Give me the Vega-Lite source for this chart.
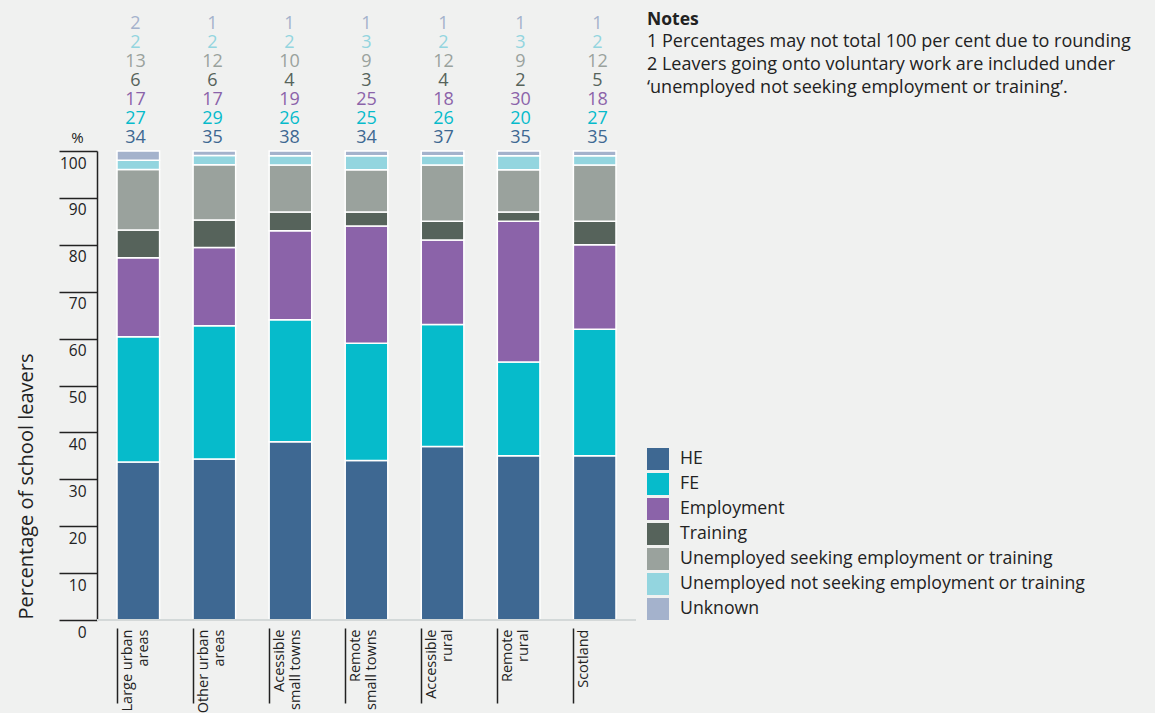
{
  "$schema": "https://vega.github.io/schema/vega-lite/v6.json",
  "background": "#f0f1f0",
  "padding": {"left": 15, "top": 9, "right": 5, "bottom": 0},
  "config": {"font": "Open Sans", "view": {"stroke": null}},
  "datasets": {
    "leavers": [
      {"area": "Large urban areas", "category": "HE", "value": 34},
      {"area": "Large urban areas", "category": "FE", "value": 27},
      {"area": "Large urban areas", "category": "Employment", "value": 17},
      {"area": "Large urban areas", "category": "Training", "value": 6},
      {"area": "Large urban areas", "category": "Unemployed seeking employment or training", "value": 13},
      {"area": "Large urban areas", "category": "Unemployed not seeking employment or training", "value": 2},
      {"area": "Large urban areas", "category": "Unknown", "value": 2},
      {"area": "Other urban areas", "category": "HE", "value": 35},
      {"area": "Other urban areas", "category": "FE", "value": 29},
      {"area": "Other urban areas", "category": "Employment", "value": 17},
      {"area": "Other urban areas", "category": "Training", "value": 6},
      {"area": "Other urban areas", "category": "Unemployed seeking employment or training", "value": 12},
      {"area": "Other urban areas", "category": "Unemployed not seeking employment or training", "value": 2},
      {"area": "Other urban areas", "category": "Unknown", "value": 1},
      {"area": "Acessible small towns", "category": "HE", "value": 38},
      {"area": "Acessible small towns", "category": "FE", "value": 26},
      {"area": "Acessible small towns", "category": "Employment", "value": 19},
      {"area": "Acessible small towns", "category": "Training", "value": 4},
      {"area": "Acessible small towns", "category": "Unemployed seeking employment or training", "value": 10},
      {"area": "Acessible small towns", "category": "Unemployed not seeking employment or training", "value": 2},
      {"area": "Acessible small towns", "category": "Unknown", "value": 1},
      {"area": "Remote small towns", "category": "HE", "value": 34},
      {"area": "Remote small towns", "category": "FE", "value": 25},
      {"area": "Remote small towns", "category": "Employment", "value": 25},
      {"area": "Remote small towns", "category": "Training", "value": 3},
      {"area": "Remote small towns", "category": "Unemployed seeking employment or training", "value": 9},
      {"area": "Remote small towns", "category": "Unemployed not seeking employment or training", "value": 3},
      {"area": "Remote small towns", "category": "Unknown", "value": 1},
      {"area": "Accessible rural", "category": "HE", "value": 37},
      {"area": "Accessible rural", "category": "FE", "value": 26},
      {"area": "Accessible rural", "category": "Employment", "value": 18},
      {"area": "Accessible rural", "category": "Training", "value": 4},
      {"area": "Accessible rural", "category": "Unemployed seeking employment or training", "value": 12},
      {"area": "Accessible rural", "category": "Unemployed not seeking employment or training", "value": 2},
      {"area": "Accessible rural", "category": "Unknown", "value": 1},
      {"area": "Remote rural", "category": "HE", "value": 35},
      {"area": "Remote rural", "category": "FE", "value": 20},
      {"area": "Remote rural", "category": "Employment", "value": 30},
      {"area": "Remote rural", "category": "Training", "value": 2},
      {"area": "Remote rural", "category": "Unemployed seeking employment or training", "value": 9},
      {"area": "Remote rural", "category": "Unemployed not seeking employment or training", "value": 3},
      {"area": "Remote rural", "category": "Unknown", "value": 1},
      {"area": "Scotland", "category": "HE", "value": 35},
      {"area": "Scotland", "category": "FE", "value": 27},
      {"area": "Scotland", "category": "Employment", "value": 18},
      {"area": "Scotland", "category": "Training", "value": 5},
      {"area": "Scotland", "category": "Unemployed seeking employment or training", "value": 12},
      {"area": "Scotland", "category": "Unemployed not seeking employment or training", "value": 2},
      {"area": "Scotland", "category": "Unknown", "value": 1}
    ]
  },
  "spacing": 10,
  "hconcat": [
    {
      "spacing": 3,
      "vconcat": [
        {
          "width": 539,
          "height": 132,
          "data": {"name": "leavers"},
          "mark": {"type": "text", "fontSize": 18, "baseline": "middle"},
          "encoding": {
            "x": {"field": "area", "type": "nominal",
              "sort": ["Large urban areas", "Other urban areas", "Acessible small towns", "Remote small towns", "Accessible rural", "Remote rural", "Scotland"],
              "scale": {"paddingInner": 0.44, "paddingOuter": 0.263}, "axis": null},
            "y": {"field": "category", "type": "nominal",
              "scale": {"type": "point", "padding": 0.5,
                "domain": ["Unknown", "Unemployed not seeking employment or training", "Unemployed seeking employment or training", "Training", "Employment", "FE", "HE"]},
              "axis": {"title": "%", "domain": false, "ticks": false, "labels": false, "grid": false,
                "titleAngle": 0, "titleX": -20, "titleY": 122, "titleFontSize": 15, "titleFontWeight": "normal",
                "titleColor": "#222222", "titleAlign": "center", "titleBaseline": "middle"}},
            "text": {"field": "value", "type": "quantitative"},
            "color": {"field": "category", "type": "nominal",
              "scale": {"domain": ["HE", "FE", "Employment", "Training", "Unemployed seeking employment or training", "Unemployed not seeking employment or training", "Unknown"],
                "range": ["#3e6892", "#06bbcb", "#8b63a9", "#56635b", "#9aa29d", "#93d5df", "#a4b2cc"]},
              "legend": {"orient": "none", "legendX": 550, "legendY": 433, "title": null,
                "symbolType": "square", "symbolSize": 484, "symbolStrokeWidth": 0, "symbolOpacity": 1,
                "labelFontSize": 17.7, "labelColor": "#222222", "labelOffset": 11, "rowPadding": 3, "labelLimit": 500}}
          }
        },
        {
          "width": 539,
          "height": 469,
          "data": {"name": "leavers"},
          "transform": [
            {"calculate": "indexof(['HE', 'FE', 'Employment', 'Training', 'Unemployed seeking employment or training', 'Unemployed not seeking employment or training', 'Unknown'], datum.category)", "as": "stackOrder"}
          ],
          "layer": [
            {
              "mark": {"type": "bar", "stroke": "#ffffff", "strokeWidth": 1.5},
              "encoding": {
                "x": {"field": "area", "type": "nominal",
                  "sort": ["Large urban areas", "Other urban areas", "Acessible small towns", "Remote small towns", "Accessible rural", "Remote rural", "Scotland"],
                  "scale": {"paddingInner": 0.44, "paddingOuter": 0.263},
                  "axis": {"orient": "bottom", "offset": 8, "domain": false, "bandPosition": 0,
                    "tickSize": 75, "tickWidth": 1.5, "tickColor": "#222222",
                    "labelAngle": 270, "labelAlign": "right", "labelBaseline": "top",
                    "labelPadding": -74, "labelOffset": -17.5, "labelFontSize": 14.5, "labelColor": "#222222",
                    "labelLineHeight": 16,
                    "labelExpr": "indexof(datum.label, 'small towns') >= 0 ? [replace(datum.label, ' small towns', ''), 'small towns'] : (indexof(datum.label, ' ') < 0 ? datum.label : [slice(datum.label, 0, lastindexof(datum.label, ' ')), slice(datum.label, lastindexof(datum.label, ' ') + 1)])",
                    "title": null}},
                "y": {"field": "value", "type": "quantitative", "stack": "normalize",
                  "scale": {"domain": [0, 1]},
                  "axis": {"values": [0, 0.1, 0.2, 0.3, 0.4, 0.5, 0.6, 0.7, 0.8, 0.9, 1],
                    "labelExpr": "round(datum.value * 100)",
                    "grid": false, "domainColor": "#222222", "domainWidth": 1.5,
                    "tickColor": "#222222", "tickWidth": 1.5, "tickSize": 38,
                    "labelPadding": -27, "labelAlign": "right", "labelBaseline": "middle",
                    "labelOffset": 12, "labelFlush": false, "labelFontSize": 15.5, "labelColor": "#222222",
                    "title": "Percentage of school leavers", "titleFontSize": 20, "titleFontWeight": "normal",
                    "titleColor": "#222222", "titleAngle": 270, "titleAlign": "left", "titleBaseline": "middle",
                    "titleX": -71, "titleY": 468}},
                "order": {"field": "stackOrder", "type": "quantitative"},
                "color": {"field": "category", "type": "nominal",
                  "scale": {"domain": ["HE", "FE", "Employment", "Training", "Unemployed seeking employment or training", "Unemployed not seeking employment or training", "Unknown"],
                    "range": ["#3e6892", "#06bbcb", "#8b63a9", "#56635b", "#9aa29d", "#93d5df", "#a4b2cc"]},
                  "legend": {"orient": "none", "legendX": 550, "legendY": 433, "title": null,
                    "symbolType": "square", "symbolSize": 484, "symbolStrokeWidth": 0, "symbolOpacity": 1,
                    "labelFontSize": 17.7, "labelColor": "#222222", "labelOffset": 11, "rowPadding": 3, "labelLimit": 500}}
              }
            },
            {
              "mark": {"type": "rule", "color": "#d3d8d8", "strokeWidth": 1},
              "encoding": {"y": {"datum": 0}}
            }
          ]
        }
      ]
    },
    {
      "width": 505,
      "height": 1,
      "data": {"values": [{"note": ""}]},
      "mark": {"type": "text"},
      "encoding": {"text": {"field": "note", "type": "nominal"}},
      "title": {
        "text": "Notes",
        "subtitle": ["1 Percentages may not total 100 per cent due to rounding", "2 Leavers going onto voluntary work are included under", "\u00a0\u00a0\u00a0‘unemployed not seeking employment or training’."],
        "orient": "bottom", "anchor": "start", "frame": "group", "offset": 0, "dy": -10,
        "fontSize": 17.5, "fontWeight": "bold", "color": "#222222",
        "subtitleFontSize": 18, "subtitleColor": "#222222", "subtitleLineHeight": 23, "subtitlePadding": 5
      }
    }
  ]
}
